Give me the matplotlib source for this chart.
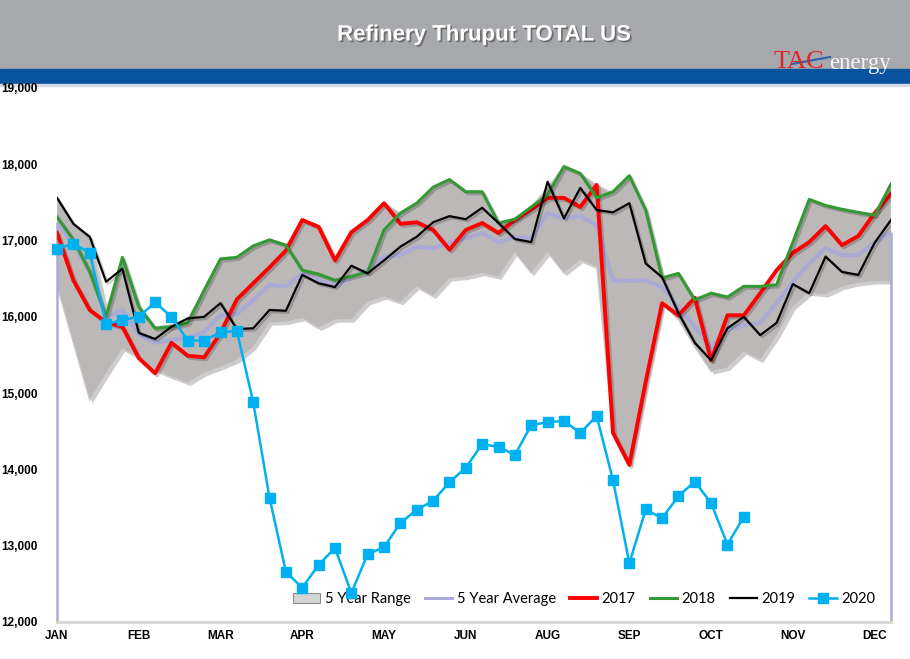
import matplotlib
matplotlib.use("Agg")
import matplotlib.pyplot as plt
import matplotlib.patheffects as pe
from matplotlib.patches import Rectangle, Patch
from matplotlib.lines import Line2D

# weekly refinery thruput, thousand b/d (52 weeks, 2020 runs to mid Oct)
months = ['JAN', 'FEB', 'MAR', 'APR', 'MAY', 'JUN', 'AUG', 'SEP', 'OCT', 'NOV', 'DEC']
month_pos = [0, 5, 10, 15, 20, 25, 30, 35, 40, 45, 50]

range_hi = [17560, 17220, 17050, 16090, 16780, 16150, 15870, 15900, 15980, 16350,
            16760, 16780, 16930, 17010, 16940, 17270, 17180, 16740, 17110, 17270,
            17490, 17360, 17490, 17700, 17800, 17640, 17640, 17230, 17280, 17440,
            17700, 17970, 17880, 17730, 17620, 17830, 17400, 16520, 16570, 16250,
            16310, 16260, 16400, 16400, 16420, 16980, 17540, 17460, 17410, 17370,
            17360, 17750]
range_lo = [16400, 15650, 14900, 15250, 15580, 15460, 15300, 15210, 15130, 15260,
            15340, 15430, 15600, 15920, 15930, 15980, 15850, 15960, 15960, 16190,
            16260, 16190, 16390, 16270, 16500, 16520, 16570, 16520, 16840, 16570,
            16840, 16570, 16740, 16650, 14480, 14060, 15150, 16180, 15960, 15600,
            15280, 15330, 15540, 15430, 15740, 16130, 16310, 16290, 16390, 16440,
            16460, 16460]
avg5 = [17250, 16950, 16600, 16000, 16090, 15770, 15660, 15700, 15720, 15800,
        16020, 16040, 16220, 16420, 16400, 16570, 16480, 16400, 16520, 16610,
        16790, 16810, 16920, 16900, 16970, 17030, 17100, 16980, 17050, 17030,
        17360, 17290, 17320, 17200, 16480, 16470, 16480, 16390, 16130, 15870,
        15600, 15830, 15890, 15920, 16180, 16460, 16700, 16900, 16810, 16810,
        16970, 17110]
y2017 = [17100, 16480, 16090, 15930, 15870, 15460, 15260, 15660, 15490, 15470,
         15790, 16230, 16440, 16650, 16870, 17270, 17180, 16740, 17110, 17270,
         17490, 17220, 17240, 17140, 16880, 17140, 17230, 17100, 17270, 17410,
         17560, 17560, 17440, 17730, 14480, 14060, 15150, 16180, 16020, 16250,
         15430, 16020, 16020, 16310, 16610, 16840, 16980, 17190, 16940, 17060,
         17360, 17610]
y2018 = [17310, 17010, 16590, 16000, 16780, 16130, 15850, 15870, 15920, 16350,
         16760, 16780, 16930, 17010, 16940, 16610, 16560, 16480, 16530, 16590,
         17140, 17360, 17490, 17700, 17800, 17640, 17640, 17230, 17280, 17440,
         17600, 17970, 17880, 17560, 17640, 17850, 17400, 16510, 16570, 16220,
         16310, 16260, 16400, 16400, 16420, 16980, 17540, 17460, 17410, 17370,
         17330, 17740]
y2019 = [17560, 17220, 17050, 16460, 16630, 15790, 15710, 15870, 15980, 16000,
         16180, 15840, 15850, 16090, 16080, 16550, 16440, 16390, 16670, 16570,
         16740, 16920, 17050, 17240, 17320, 17280, 17430, 17230, 17020, 16980,
         17770, 17290, 17690, 17400, 17370, 17490, 16700, 16520, 16050, 15660,
         15430, 15850, 16000, 15760, 15920, 16430, 16310, 16790, 16590, 16550,
         16970, 17270]
y2020 = [16890, 16960, 16840, 15905, 15960, 16000, 16190, 16000, 15690, 15690,
         15800, 15815, 14880, 13625, 12655, 12450, 12750, 12970, 12380, 12890,
         12980, 13300, 13470, 13590, 13830, 14025, 14330, 14295, 14190, 14580,
         14620, 14635, 14480, 14700, 13860, 12770, 13475, 13360, 13650, 13840,
         13560, 13015, 13380]

weeks = list(range(len(avg5)))
weeks20 = list(range(len(y2020)))

c_range = '#bcb8b7'
c_avg = '#aaaad6'
c_17 = '#ff0000'
c_18 = '#339933'
c_19 = '#000000'
c_20 = '#00b0f0'

fig = plt.figure(figsize=(9.1, 6.59), dpi=100)

# header bands
fig.patches.append(Rectangle((0, 1 - 69 / 659), 1, 69 / 659, transform=fig.transFigure,
                             color='#a7a8ab', zorder=0))
fig.patches.append(Rectangle((0, 1 - 84 / 659), 1, 15 / 659, transform=fig.transFigure,
                             color='#0753a0', zorder=0))
fig.patches.append(Rectangle((0, 1 - 85.5 / 659), 1, 1.5 / 659, transform=fig.transFigure,
                             color='#d5dbe8', zorder=0))
fig.text(484 / 910, 1 - 35 / 659, 'Refinery Thruput TOTAL US', color='white', fontsize=16,
         fontweight='bold', family='Liberation Sans', ha='center', va='center',
         path_effects=[pe.withSimplePatchShadow(offset=(1.2, -1.2), shadow_rgbFace='#444444', alpha=0.6)])

# logo
fig.text(774 / 910, 1 - 62 / 659, 'TAC', color='#e0262b', fontsize=19,
         family='Liberation Serif', ha='left', va='center')
fig.text(829 / 910, 1 - 63 / 659, 'energy', color='#f4f4f4', fontsize=16.5,
         family='Liberation Serif', ha='left', va='center')
fig.lines.append(Line2D([792 / 910, 830 / 910], [1 - 64 / 659, 1 - 57 / 659],
                        transform=fig.transFigure, color='#2860b0', lw=1.5))

ax = fig.add_axes([57 / 910, 1 - 622 / 659, 834 / 910, 534 / 659])
ax.set_zorder(2)
ax.set_xlim(0, len(avg5) - 1)
ax.set_ylim(12000, 19000)

shadow = [pe.SimpleLineShadow(offset=(1.5, -1.5), alpha=0.2), pe.Normal()]

ax.fill_between(weeks, range_lo, range_hi, facecolor=c_range, edgecolor='#cfcccb', lw=0.8,
                zorder=1, path_effects=[pe.withSimplePatchShadow(offset=(2, -2), alpha=0.25)])
ax.plot(weeks, avg5, color=c_avg, lw=3, zorder=2, solid_joinstyle='round')
ax.vlines([0, len(avg5) - 1], 12000, [avg5[0], avg5[-1]], color=c_avg, lw=1.8, zorder=2, clip_on=False)
ax.plot(weeks, y2017, color=c_17, lw=2.8, zorder=3, path_effects=shadow)
ax.plot(weeks, y2018, color=c_18, lw=2.2, zorder=4, path_effects=shadow)
ax.plot(weeks, y2019, color=c_19, lw=1.6, zorder=5, path_effects=shadow)
ax.plot(weeks20, y2020, color=c_20, lw=1.8, marker='s', markersize=7.5, zorder=6, clip_on=False)

# axes look
for s in ['top', 'right', 'left']:
    ax.spines[s].set_visible(False)
ax.spines['bottom'].set_color('#d6d6d6')
ax.spines['bottom'].set_linewidth(2)

yt = list(range(12000, 19001, 1000))
ax.set_yticks(yt)
ax.set_yticklabels(['{:,}'.format(v) for v in yt], fontsize=8.5, fontweight='bold',
                   family='Liberation Sans')
ax.set_xticks(month_pos)
ax.set_xticklabels(months, fontsize=8.5, fontweight='bold', family='Liberation Sans')
ax.tick_params(axis='y', length=0, pad=14)
ax.tick_params(axis='x', length=0, pad=6)

handles = [Patch(facecolor='#d4d4d4', edgecolor='#8e8e8e', lw=0.8),
           Line2D([], [], color=c_avg, lw=2.2),
           Line2D([], [], color=c_17, lw=2.8),
           Line2D([], [], color=c_18, lw=2.2),
           Line2D([], [], color=c_19, lw=1.6),
           Line2D([], [], color=c_20, lw=1.8, marker='s', markersize=7)]
names = ['5 Year Range', '5 Year Average', '2017', '2018', '2019', '2020']
ax.legend(handles, names, loc='center', bbox_to_anchor=(0.632, 0.043), ncol=6, frameon=False,
          prop={'family': 'Lato', 'size': 10.5}, handlelength=1.9, handletextpad=0.3,
          columnspacing=0.95, handleheight=0.6)

fig.savefig('out.png', dpi=100)
